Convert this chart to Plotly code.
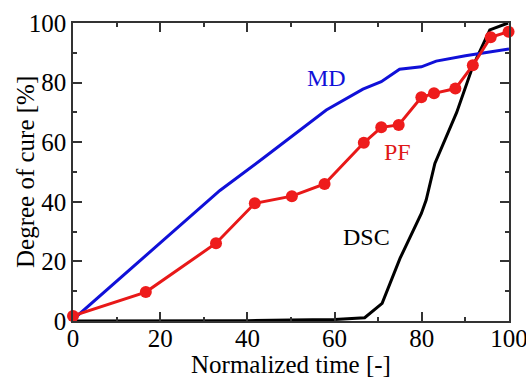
import plotly.graph_objects as go

# PF (red, markers)
pf_x = [0, 16.7, 32.8, 41.7, 50.2, 57.7, 66.7, 70.7, 74.7, 79.9, 82.8, 87.7, 91.7, 95.8, 99.9]
pf_y = [1.7, 9.7, 26.1, 39.5, 41.9, 46.0, 59.8, 65.0, 65.8, 75.1, 76.4, 78.0, 85.8, 95.2, 97.1]

# MD (blue line)
md_x = [0, 33.7, 43.6, 50, 58.1, 66.5, 70.7, 74.9, 79.9, 83.3, 90, 100]
md_y = [0.5, 43.8, 54.6, 61.7, 70.8, 77.8, 80.3, 84.5, 85.3, 87.2, 89.0, 91.3]

# DSC (black line)
dsc_x = [0, 20, 40, 50, 60, 66.9, 70.9, 75, 79.9, 81.0, 83.0, 88.0, 91.7, 95.6, 99.8]
dsc_y = [0, 0, 0.1, 0.3, 0.5, 1.1, 5.9, 21, 36.1, 40.6, 52.9, 70, 85.5, 97.7, 100]

x_ticks = [0, 20, 40, 60, 80, 100]
y_ticks = [0, 20, 40, 60, 80, 100]

labels = [("MD", 58.1, 81.4, "#1010d8"), ("PF", 74.5, 56.8, "#e01818"), ("DSC", 67.4, 28.3, "black")]

FONT = "serif"

fig = go.Figure()
fig.add_trace(go.Scatter(x=dsc_x, y=dsc_y, mode="lines", line=dict(color="black", width=3), cliponaxis=False))
fig.add_trace(go.Scatter(x=md_x, y=md_y, mode="lines", line=dict(color="#1010d8", width=3), cliponaxis=False))
fig.add_trace(go.Scatter(x=pf_x, y=pf_y, mode="lines+markers", line=dict(color="#e81818", width=3),
                         marker=dict(color="#ee1c1c", size=12), cliponaxis=False))

for txt, x, y, c in labels:
    fig.add_annotation(x=x, y=y, text=txt, showarrow=False, font=dict(family=FONT, size=24, color=c))

# y-axis title placed as rotated text
fig.add_annotation(xref="paper", yref="paper", x=0, y=0.5, xshift=-48, xanchor="center", yanchor="middle",
                   textangle=-90, text="Degree of cure [%]", showarrow=False,
                   font=dict(family=FONT, size=25, color="black"))

axis_common = dict(
    showgrid=False, zeroline=False, showline=True, linecolor="#333333", linewidth=1.5,
    mirror="ticks", ticks="inside", ticklen=9, tickwidth=1.5, tickcolor="#333333",
    range=[0, 100], tickfont=dict(family=FONT, size=25, color="black"),
    ticklabeloverflow="allow", automargin=False,
    minor=dict(ticks="inside", ticklen=4, tickwidth=1.5, tickcolor="#333333", dtick=10),
)

fig.update_xaxes(**axis_common, tickvals=x_ticks, ticktext=[str(v) for v in x_ticks], ticklabelstandoff=-6,
                 title=dict(text="Normalized time [-]", font=dict(family=FONT, size=25, color="black"), standoff=0))
fig.update_yaxes(**axis_common, tickvals=y_ticks, ticktext=[str(v) for v in y_ticks])

fig.update_layout(
    width=526, height=378, showlegend=False,
    margin=dict(l=73, r=17, t=23, b=57),
    plot_bgcolor="white", paper_bgcolor="white",
    font=dict(family=FONT),
)

fig.write_html("out.html")
